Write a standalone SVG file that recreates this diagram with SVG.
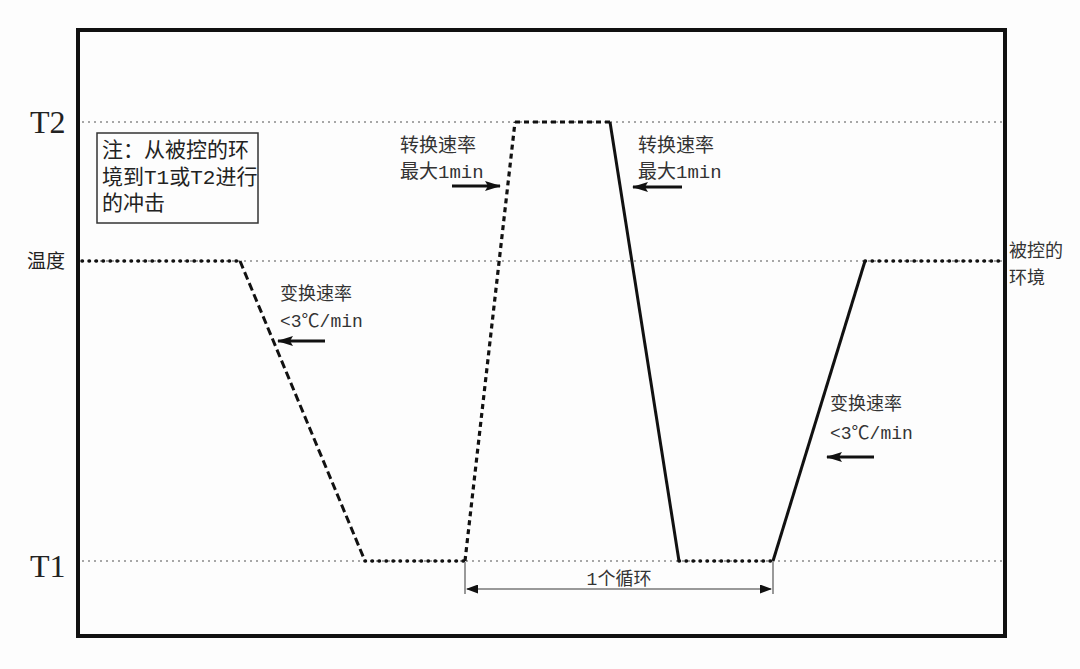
<svg xmlns="http://www.w3.org/2000/svg" width="1080" height="669" viewBox="0 0 1080 669">
<defs>
<style>
.ref{stroke:#8a8a8a;stroke-width:1.5;stroke-dasharray:2 4;fill:none}
.dot{stroke:#111;stroke-width:3.5;stroke-linecap:round;stroke-dasharray:0.5 6.5;fill:none}
.dash{stroke:#111;stroke-width:3;stroke-dasharray:8 4;fill:none}
.dash2{stroke:#111;stroke-width:3.2;stroke-dasharray:5 4;fill:none}
.solid{stroke:#111;stroke-width:3;fill:none}
.lbl{font-family:"Liberation Mono","Noto Sans CJK SC",monospace;font-size:18px;fill:#333}
.note{font-family:"Liberation Mono","Noto Sans CJK SC",monospace;font-size:21px;fill:#222}
.big{font-family:"Liberation Serif","Noto Serif",serif;font-size:32px;fill:#222}
.arr{stroke:#111;stroke-width:3;fill:none;marker-end:url(#ah)}
.dim{stroke:#777;stroke-width:1.5;fill:none}
</style>
<marker id="ah" viewBox="0 0 16 10" refX="15" refY="5" markerWidth="16" markerHeight="10" orient="auto" markerUnits="userSpaceOnUse">
<path d="M0,0 L16,5 L0,10 L3,5 z" fill="#111"/>
</marker>
<marker id="dh" viewBox="0 0 12 9" refX="11" refY="4.5" markerWidth="12" markerHeight="9" orient="auto-start-reverse" markerUnits="userSpaceOnUse">
<path d="M0,0 L12,4.5 L0,9 z" fill="#111"/>
</marker>
</defs>
<rect width="1080" height="669" fill="#fdfdfd"/>
<g id="frame">
<rect x="78" y="30" width="927" height="606" fill="none" stroke="#111" stroke-width="4"/>
</g>
<g id="reference-lines">
<line class="ref" x1="82" y1="122" x2="1003" y2="122"/>
<line class="ref" x1="82" y1="261" x2="1003" y2="261"/>
<line class="ref" x1="82" y1="561" x2="1003" y2="561"/>
</g>
<g id="axis-labels">
<text class="big" x="30" y="133">T2</text>
<text class="note" x="27" y="268" style="font-size:19px">温度</text>
<text class="big" x="30" y="577">T1</text>
</g>
<g id="note">
<rect x="97" y="133" width="161" height="90" fill="none" stroke="#333" stroke-width="1.5"/>
<text class="note" x="102" y="157">注：从被控的环</text>
<text class="note" x="102" y="184">境到T1或T2进行</text>
<text class="note" x="102" y="210">的冲击</text>
</g>
<g id="connectors">
<line class="dot" x1="82" y1="261" x2="240" y2="261"/>
<line class="dash" x1="240" y1="261" x2="365" y2="561"/>
<line class="dot" x1="365" y1="561" x2="465" y2="561"/>
<line class="dash2" x1="465" y1="561" x2="515" y2="122"/>
<line class="dash2" x1="515" y1="122" x2="610" y2="122"/>
<line class="solid" x1="610" y1="122" x2="679" y2="561"/>
<line class="dot" x1="679" y1="561" x2="773" y2="561"/>
<line class="solid" x1="773" y1="561" x2="865" y2="261"/>
<line class="dot" x1="865" y1="261" x2="1003" y2="261"/>
</g>
<g id="rate-left">
<text class="lbl" x="280" y="300">变换速率</text>
<text class="lbl" x="280" y="327">&lt;3℃/min</text>
<line class="arr" x1="325" y1="341" x2="278" y2="341"/>
</g>
<g id="rate-top-left">
<text class="lbl" x="400" y="152" style="font-size:19px">转换速率</text>
<text class="lbl" x="400" y="178" style="font-size:19px">最大1min</text>
<line class="arr" x1="452" y1="186" x2="500" y2="186"/>
</g>
<g id="rate-top-right">
<text class="lbl" x="638" y="152" style="font-size:19px">转换速率</text>
<text class="lbl" x="638" y="178" style="font-size:19px">最大1min</text>
<line class="arr" x1="682" y1="187" x2="633" y2="187"/>
</g>
<g id="rate-right">
<text class="lbl" x="830" y="410">变换速率</text>
<text class="lbl" x="830" y="439">&lt;3℃/min</text>
<line class="arr" x1="874" y1="457" x2="827" y2="457"/>
</g>
<g id="env-label">
<text class="lbl" x="1009" y="257">被控的</text>
<text class="lbl" x="1009" y="284">环境</text>
</g>
<g id="cycle">
<line class="dim" x1="465" y1="562" x2="465" y2="594"/>
<line class="dim" x1="773" y1="562" x2="773" y2="594"/>
<line class="dim" x1="467" y1="589" x2="771" y2="589" marker-start="url(#dh)" marker-end="url(#dh)"/>
<text class="lbl" x="619" y="585" text-anchor="middle">1个循环</text>
</g>
</svg>
